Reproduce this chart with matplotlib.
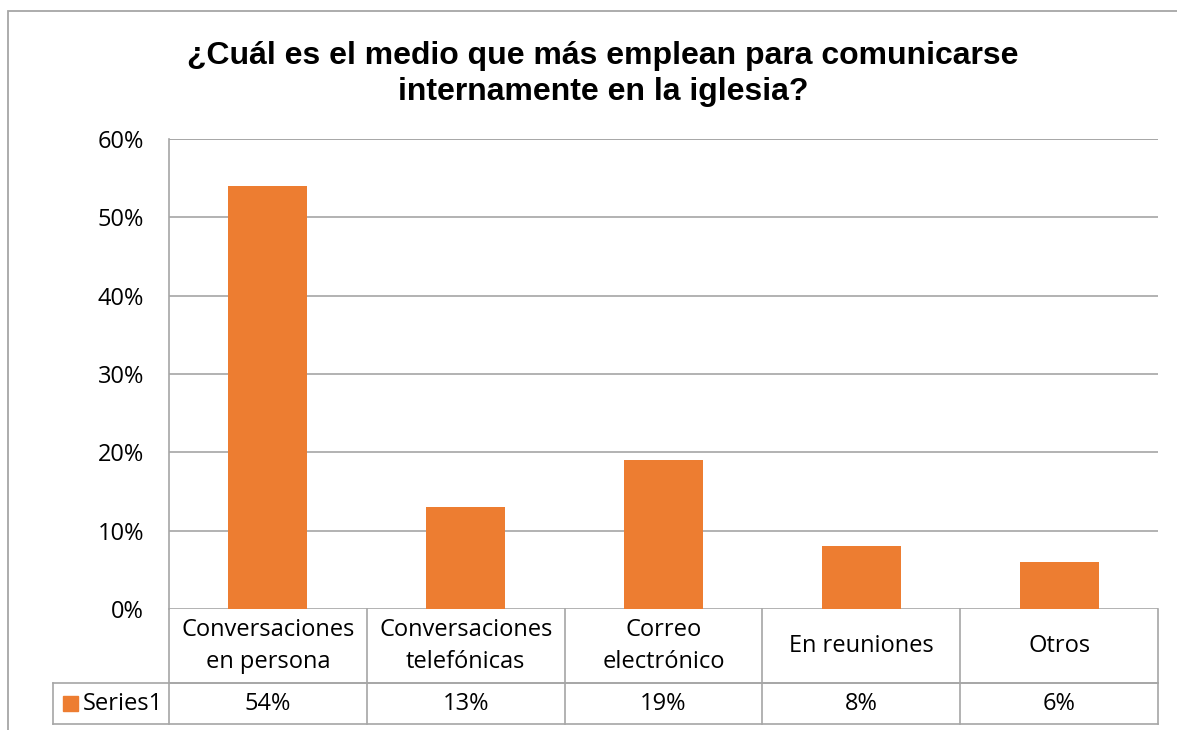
import matplotlib.pyplot as plt
from matplotlib.patches import Rectangle
from matplotlib.lines import Line2D
import matplotlib.transforms as mtransforms

categories = ['Conversaciones\nen persona', 'Conversaciones\ntelefónicas',
              'Correo\nelectrónico', 'En reuniones', 'Otros']
values = [54, 13, 19, 8, 6]
series_name = 'Series1'
title = '¿Cuál es el medio que más emplean para comunicarse\ninternamente en la iglesia?'

W, H = 1177, 730
bar_color = '#ED7D31'
line_color = '#a6a6a6'
body_font = 'Open Sans'
body_size = 17

fig = plt.figure(figsize=(W / 100, H / 100), dpi=100)


def fx(px):
    return px / W


def fy(py):
    return 1 - py / H


# outer chart frame (runs off the right and bottom edges)
fig.patches.append(Rectangle((fx(8), fy(740)), fx(1190) - fx(8), fy(11) - fy(740),
                             transform=fig.transFigure, fill=False,
                             edgecolor=line_color, linewidth=1.3))

left, right, top, bottom = 169, 1158, 139, 609
ax = fig.add_axes([fx(left), fy(bottom), fx(right) - fx(left), fy(top) - fy(bottom)])

x = range(len(categories))
ax.bar(x, values, width=0.4, color=bar_color, zorder=3)
ax.set_xlim(-0.5, len(categories) - 0.5)
ax.set_ylim(0, 60)
ax.set_yticks(range(0, 61, 10))
ax.set_yticklabels([f'{t}%' for t in range(0, 61, 10)], fontfamily=body_font, fontsize=17)
ax.tick_params(axis='y', length=0, pad=18)
ax.set_xticks([])
ax.grid(axis='y', color=line_color, linewidth=1.2, zorder=0)
for s in ['top', 'right', 'bottom']:
    ax.spines[s].set_visible(False)
ax.spines['left'].set_color(line_color)
ax.spines['left'].set_linewidth(1.2)
# top gridline closes the plot area
ax.axhline(60, color=line_color, linewidth=1.2, zorder=0)

# data table under the axis
trans = mtransforms.blended_transform_factory(ax.transData, ax.transAxes)
plot_h = bottom - top
row1 = -74 / plot_h
row2 = -115 / plot_h
unit_px = (right - left) / len(categories)
table_left = -0.5 - (left - 53) / unit_px
n = len(categories)

lines = [
    ((-0.5, n - 0.5), (row1, row1)),
    ((table_left, n - 0.5), (row1, row1)),
    ((table_left, n - 0.5), (row2, row2)),
    ((table_left, table_left), (row1, row2)),
    ((-0.5, -0.5), (0, row2)),
]
for i in range(n):
    lines.append(((i + 0.5, i + 0.5), (0, row2)))
for xs, ys in lines:
    ax.add_line(Line2D(xs, ys, transform=trans, color=line_color, linewidth=1.2,
                       clip_on=False))

for i, (cat, v) in enumerate(zip(categories, values)):
    ax.text(i, row1 / 2, cat, transform=trans, ha='center', va='center',
            fontfamily=body_font, fontsize=body_size, linespacing=1.5)
    ax.text(i, (row1 + row2) / 2, f'{v}%', transform=trans, ha='center', va='center',
            fontfamily=body_font, fontsize=body_size)

# legend key in the table row
fig.patches.append(Rectangle((fx(63), fy(711)), fx(78) - fx(63), fy(696) - fy(711),
                             transform=fig.transFigure, color=bar_color))
fig.text(fx(83), fy(703.5), series_name, ha='left', va='center',
         fontfamily=body_font, fontsize=body_size)

fig.text(fx(603), fy(74), title, ha='center', va='center', fontfamily='Liberation Sans',
         fontweight='bold', fontsize=23, linespacing=1.3)

fig.savefig('out.png', dpi=100)
